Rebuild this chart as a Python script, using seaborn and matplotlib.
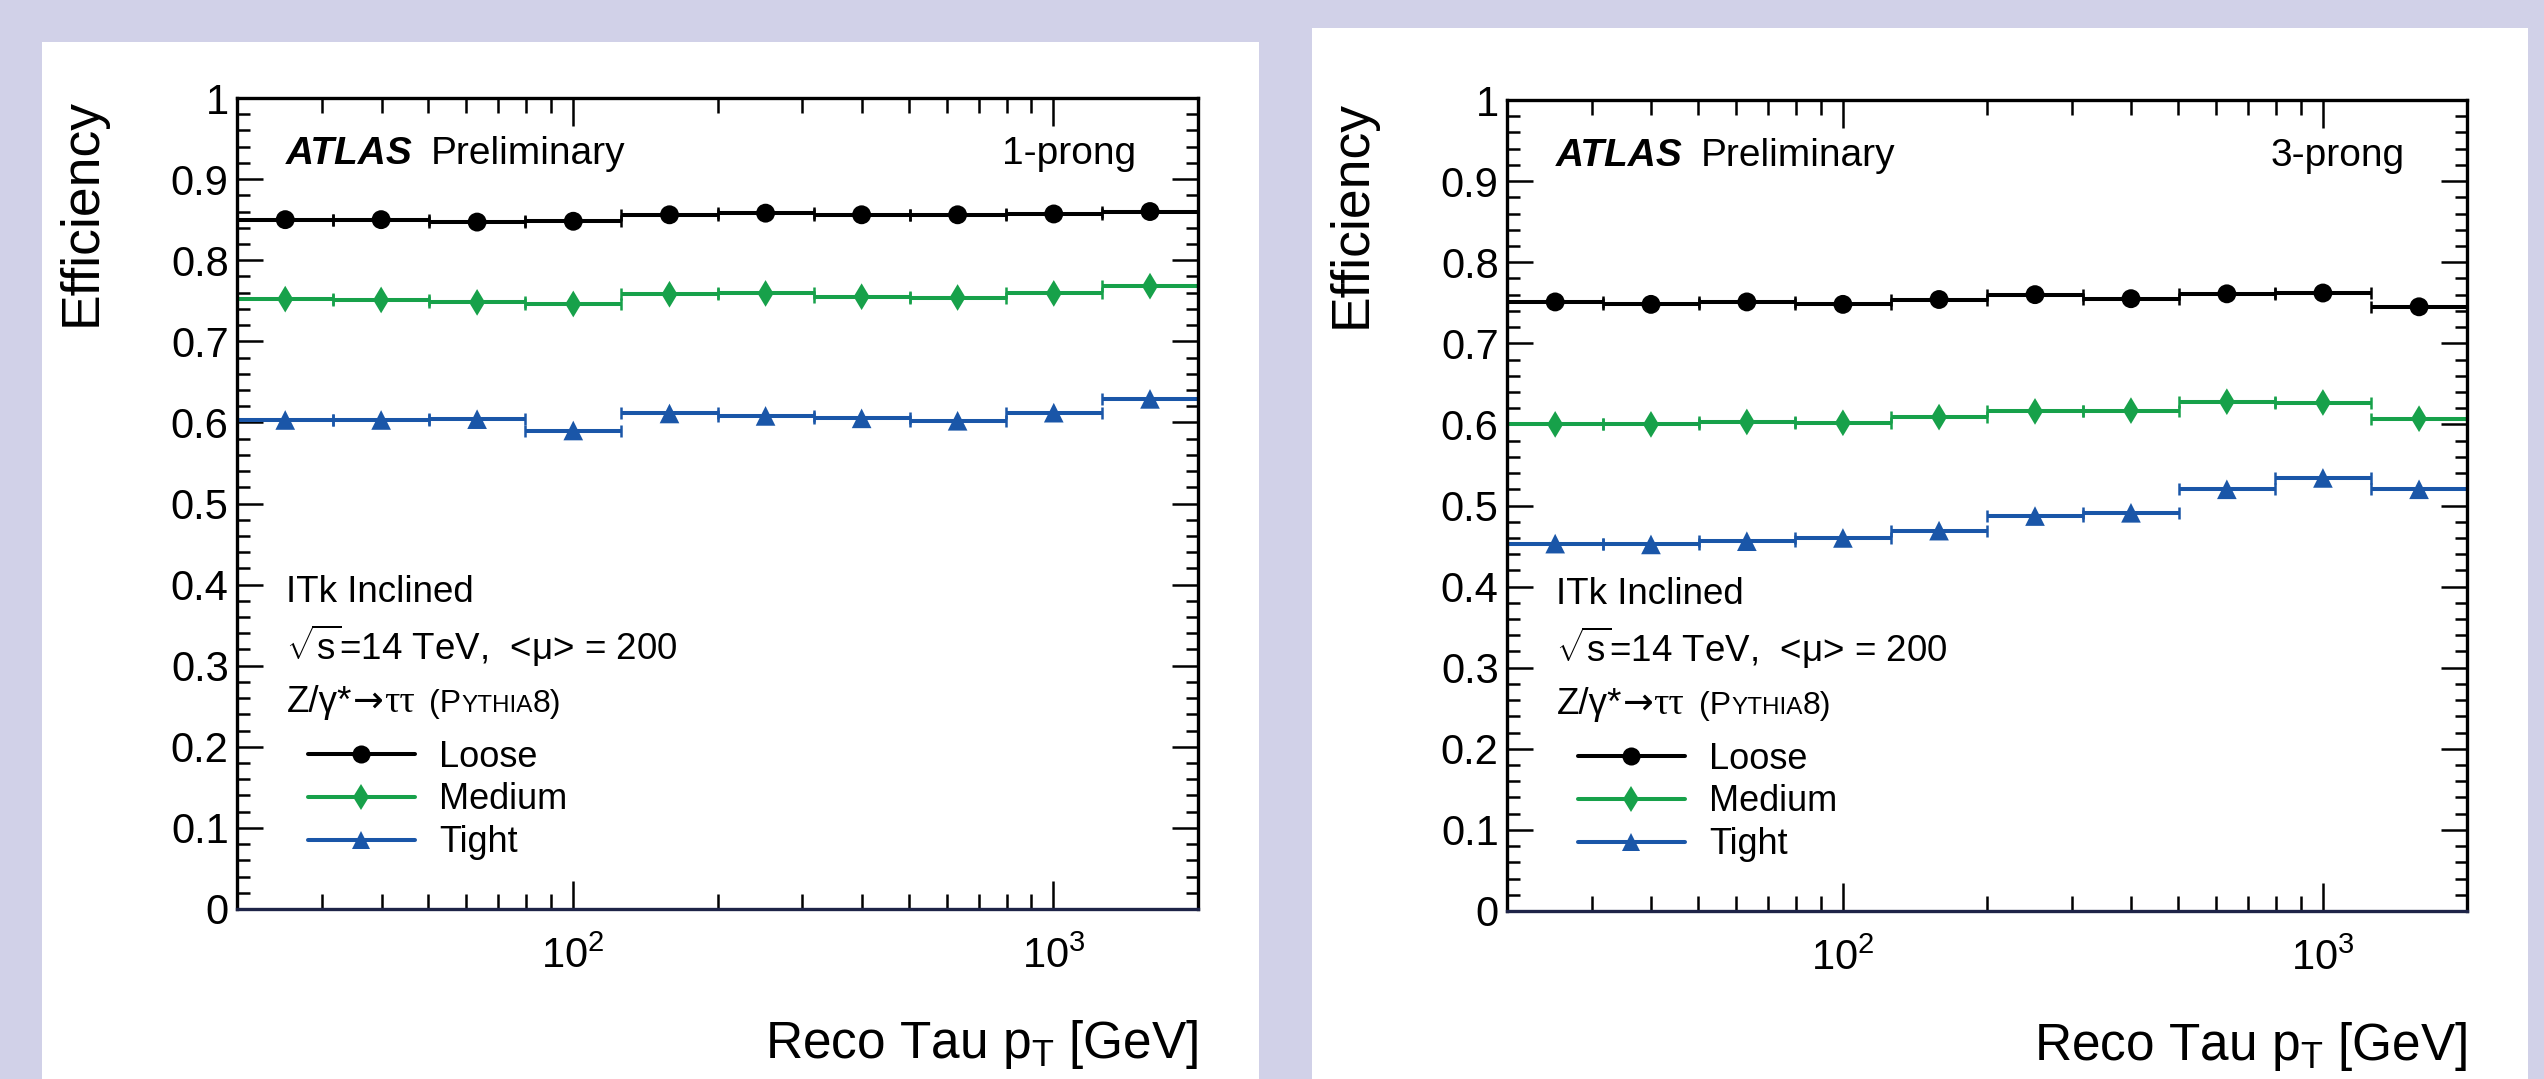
import numpy as np
import pandas as pd
import matplotlib
matplotlib.use("Agg")
import matplotlib.pyplot as plt
import seaborn as sns
from matplotlib.patches import Rectangle
from matplotlib.lines import Line2D
from matplotlib.ticker import LogLocator, NullFormatter, MultipleLocator, FuncFormatter

# ---------------- data ----------------
bin_edges = [20, 31.7, 50.2, 79.6, 126.2, 200, 317, 502, 796, 1262, 2000]
bin_centers = [25.2, 39.9, 63.2, 100.2, 158.9, 251.8, 399, 632, 1002, 1589]

working_points = ["Loose", "Medium", "Tight"]

loose_1p = [0.850, 0.850, 0.847, 0.848, 0.856, 0.858, 0.856, 0.856, 0.857, 0.860]
medium_1p = [0.752, 0.751, 0.748, 0.746, 0.758, 0.759, 0.755, 0.754, 0.759, 0.768]
tight_1p = [0.603, 0.603, 0.604, 0.590, 0.611, 0.608, 0.605, 0.602, 0.612, 0.629]

loose_3p = [0.751, 0.748, 0.751, 0.748, 0.754, 0.760, 0.755, 0.761, 0.762, 0.745]
medium_3p = [0.600, 0.600, 0.603, 0.602, 0.609, 0.616, 0.617, 0.628, 0.627, 0.607]
tight_3p = [0.453, 0.452, 0.456, 0.460, 0.469, 0.487, 0.491, 0.520, 0.534, 0.520]

panel_labels = ["1-prong", "3-prong"]
y_ticks = [0, 0.1, 0.2, 0.3, 0.4, 0.5, 0.6, 0.7, 0.8, 0.9, 1.0]

# ---------------- style ----------------
sns.set_theme(style="ticks")
plt.rcParams["font.family"] = ["Liberation Sans", "DejaVu Sans"]
plt.rcParams["mathtext.fontset"] = "custom"
plt.rcParams["mathtext.rm"] = "Liberation Sans"
plt.rcParams["mathtext.it"] = "Liberation Sans:italic"
plt.rcParams["mathtext.bf"] = "Liberation Sans:bold"
for k in ("text.color", "axes.labelcolor", "xtick.color", "ytick.color",
          "xtick.labelcolor", "ytick.labelcolor", "axes.edgecolor"):
    plt.rcParams[k] = "black"

BG = "#d1d1e8"
colors = {"Loose": "#000000", "Medium": "#17a14a", "Tight": "#1a56a8"}
markers = {"Loose": "o", "Medium": "d", "Tight": "^"}
msizes = {"Loose": 185, "Medium": 185, "Tight": 200}
lsizes = {"Loose": 13, "Medium": 13, "Tight": 13.5}

W, H = 2544, 1079
fig = plt.figure(figsize=(W / 100, H / 100), dpi=100, facecolor=BG)

# white panels
fig.patches.append(Rectangle((42 / W, 0), (1259 - 42) / W, 1 - 42 / H,
                             transform=fig.transFigure, facecolor="white",
                             edgecolor="none", zorder=-5))
fig.patches.append(Rectangle((1312 / W, 0), (2528 - 1312) / W, 1 - 28 / H,
                             transform=fig.transFigure, facecolor="white",
                             edgecolor="none", zorder=-5))

ax_l = fig.add_axes([237 / W, 1 - 909 / H, 961 / W, 811 / H])
ax_r = fig.add_axes([1507 / W, 1 - 911 / H, 960 / W, 811 / H])

FS = 26
lo_err = [c - e for c, e in zip(bin_centers, bin_edges[:-1])]
hi_err = [e - c for c, e in zip(bin_centers, bin_edges[1:])]


def draw_panel(ax, loose, medium, tight, label):
    ax.set_facecolor("none")
    ax.set_xscale("log")
    series = {"Loose": loose, "Medium": medium, "Tight": tight}
    for wp in working_points:
        ax.errorbar(bin_centers, series[wp], xerr=[lo_err, hi_err], fmt="none",
                    ecolor=colors[wp], elinewidth=2.9, capsize=4, capthick=1.8,
                    zorder=2)
    df = pd.DataFrame({
        "pt": bin_centers * 3,
        "eff": loose + medium + tight,
        "wp": sum([[wp] * len(bin_centers) for wp in working_points], []),
    })
    sns.scatterplot(data=df, x="pt", y="eff", hue="wp", style="wp", size="wp",
                    palette=colors, markers=markers, sizes=msizes,
                    linewidth=0, legend=False, ax=ax, zorder=3)

    ax.set_xlim(bin_edges[0], bin_edges[-1])
    ax.set_ylim(0, 1)
    ax.xaxis.set_major_locator(LogLocator(base=10, numticks=10))
    ax.xaxis.set_minor_locator(LogLocator(base=10, subs=np.arange(2, 10), numticks=20))
    ax.xaxis.set_minor_formatter(NullFormatter())
    ax.set_yticks(y_ticks)
    ax.yaxis.set_major_formatter(FuncFormatter(lambda v, p: f"{v:g}"))
    ax.yaxis.set_minor_locator(MultipleLocator(0.02))

    for s in ax.spines.values():
        s.set_linewidth(2.4)
        s.set_color("black")
        s.set_visible(True)
    ax.spines["bottom"].set_color("#1e2448")

    ax.tick_params(axis="both", which="both", direction="in", top=True, right=True,
                   color="black", labelcolor="black", width=1.8)
    ax.tick_params(axis="y", which="major", length=19, labelsize=30, pad=6)
    ax.tick_params(axis="y", which="minor", length=9)
    ax.tick_params(axis="x", which="major", length=20, labelsize=30, pad=20)
    ax.tick_params(axis="x", which="minor", length=11)

    ax.set_xlabel(r"Reco Tau $\mathrm{p_{T}}$ [GeV]", fontsize=37, loc="right",
                  color="black")
    ax.xaxis.set_label_coords(1.0, -0.184)
    ax.xaxis.label.set_verticalalignment("baseline")
    ax.set_ylabel("Efficiency", fontsize=38.5, loc="top", color="black")
    ax.yaxis.set_label_coords(-0.162, 1.0)
    ax.yaxis.label.set_verticalalignment("center")

    # texts
    t_atlas = ax.text(0.051, 0.9186, "ATLAS", transform=ax.transAxes, fontsize=28,
                      fontweight="bold", fontstyle="italic", va="baseline")
    ax.annotate("Preliminary", xy=(1, 0), xycoords=t_atlas, xytext=(13, 0),
                textcoords="offset points", fontsize=28, va="bottom", ha="left")
    ax.text(0.9355, 0.9186, label, transform=ax.transAxes, fontsize=28,
            ha="right", va="baseline")
    ax.text(0.0515, 0.3785, "ITk Inclined", transform=ax.transAxes, fontsize=26.5,
            va="baseline")
    ax.text(0.0515, 0.307, r"$\sqrt{\mathrm{s}}$=14 TeV,  <μ> = 200",
            transform=ax.transAxes, fontsize=26.5, va="baseline")
    t_z = ax.text(0.0515, 0.243, "Z/γ*", transform=ax.transAxes,
                  fontsize=26.5, va="baseline")
    return t_z


tz_l = draw_panel(ax_l, loose_1p, medium_1p, tight_1p, panel_labels[0])
tz_r = draw_panel(ax_r, loose_3p, medium_3p, tight_3p, panel_labels[1])

# legends
handles = [Line2D([], [], color=colors[wp], lw=2.9, marker=markers[wp],
                  markersize=lsizes[wp], markeredgewidth=0) for wp in working_points]
for ax in (ax_l, ax_r):
    ax.legend(handles, working_points, loc="upper left", bbox_to_anchor=(0.074, 0.209),
              frameon=False, fontsize=FS, handlelength=2.95, handletextpad=0.67,
              labelspacing=0.22, borderpad=0, borderaxespad=0, numpoints=1,
              labelcolor="black")

# process text continued: arrow, tau tau, Pythia8 in small caps
fig.canvas.draw()
renderer = fig.canvas.get_renderer()
for ax, tz in ((ax_l, tz_l), (ax_r, tz_r)):
    y = 0.243
    pieces = [("→", 26.5, 1, ["DejaVu Sans"]),
              ("ττ", 27.5, 0, ["Liberation Serif", "DejaVu Serif"]),
              ("(P", 23, 15, ["Liberation Sans", "DejaVu Sans"]),
              ("YTHIA", 17.5, 0, ["Liberation Sans", "DejaVu Sans"]),
              ("8)", 23, 0, ["Liberation Sans", "DejaVu Sans"])]
    prev = tz
    for txt, size, gap, fam in pieces:
        bb = prev.get_window_extent(renderer)
        xa = ax.transAxes.inverted().transform((bb.x1 + gap, 0))[0]
        prev = ax.text(xa, y, txt, transform=ax.transAxes, fontsize=size,
                       family=fam, va="baseline")
        fig.canvas.draw()

fig.savefig("out.png", dpi=100, facecolor=BG)
